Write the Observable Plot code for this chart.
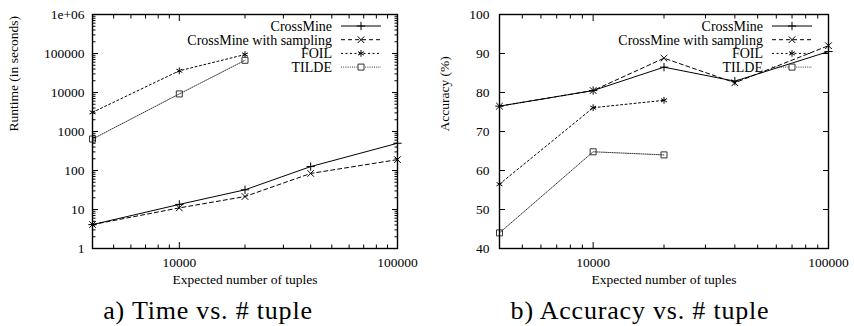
<!DOCTYPE html>
<html><head><meta charset="utf-8">
<script src="https://cdn.jsdelivr.net/npm/d3@7"></script>
<script src="https://cdn.jsdelivr.net/npm/@observablehq/plot@0.6"></script>
<style>
body{margin:0;background:#fff;}
#wrap{position:relative;width:854px;height:326px;overflow:hidden;}
#panels{display:flex;}
#overlay{position:absolute;left:0;top:0;}
</style></head><body>
<div id="wrap"><div id="panels"><div id="a"></div><div id="b"></div></div><svg id="overlay" width="854" height="326"></svg></div>
<script>
// ---- data ----
const tuples = [4000, 10000, 20000, 40000, 100000];
const seriesNames = ["CrossMine", "CrossMine with sampling", "FOIL", "TILDE"];
const runtimeCrossMine = [4.1, 13.5, 32, 126, 500];
const runtimeSampling = [4.1, 11, 21.5, 84, 190];
const runtimeFOIL = [3100, 36000, 94000];
const runtimeTILDE = [640, 9200, 67000];
const accCrossMine = [76.5, 80.5, 86.5, 82.9, 90.5];
const accSampling = [76.5, 80.5, 88.8, 82.5, 92.0];
const accFOIL = [56.5, 76.1, 78.0];
const accTILDE = [44.0, 64.8, 64.0];
const xTicks = [10000, 100000];
const xTickLabels = ["10000", "100000"];
const runtimeTicks = [1, 10, 100, 1000, 10000, 100000, 1000000];
const runtimeTickLabels = ["1", "10", "100", "1000", "10000", "100000", "1e+06"];
const accTicks = [40, 50, 60, 70, 80, 90, 100];
const accTickLabels = ["40", "50", "60", "70", "80", "90", "100"];
const xTitle = "Expected number of tuples";
const yTitles = ["Runtime (in seconds)", "Accuracy (%)"];
const captions = ["a) Time vs. # tuple", "b) Accuracy vs. # tuple"];

// ---- styles ----
const FONT = "'Liberation Serif', 'Times New Roman', serif";
const seriesStyle = [
  {symbol: "plus", r: 2.8, dash: null, stroke: "#000"},
  {symbol: "times", r: 3.1, dash: "4,3", stroke: "#000"},
  {symbol: "asterisk", r: 3.2, dash: "2,2.5", stroke: "#000"},
  {symbol: "square", r: 3.4, dash: "1,1.2", stroke: "#333"}
];
const d3sym = {plus: d3.symbolPlus, times: d3.symbolTimes, asterisk: d3.symbolAsterisk, square: d3.symbolSquare};

// minor ticks (log)
const xMinor = [];
for (const dec of [1000, 10000]) for (let k = 2; k <= 9; k++) { const v = dec * k; if (v > 4000 && v < 100000 && v !== 10000) xMinor.push(v); }
const runtimeMinor = [];
for (let e = 0; e < 6; e++) for (let k = 2; k <= 9; k++) runtimeMinor.push(k * Math.pow(10, e));

function rows(seriesList) {
  return seriesList.map((vals, s) => vals.map((v, i) => ({x: tuples[i], y: v, s})));
}

function panel({series, yScale, yTicks, yLabels, yMinor, margins, yPad, yTitleDx}) {
  const data = rows(series);
  const marks = [];
  data.forEach((d, s) => {
    const st = seriesStyle[s];
    marks.push(Plot.line(d, {x: "x", y: "y", stroke: st.stroke, strokeWidth: 1, strokeDasharray: st.dash}));
    marks.push(Plot.dot(d, {x: "x", y: "y", symbol: () => st.symbol, r: st.r, stroke: st.stroke, fill: "none", strokeWidth: 1}));
  });
  const tickLabel = (ticks, labels) => (v) => labels[ticks.indexOf(v)];
  const blank = () => "";
  marks.push(
    Plot.frame({stroke: "#000", strokeWidth: 1.4}),
    Plot.axisX({anchor: "bottom", ticks: xTicks, tickSize: 0, tickPadding: 9, tickFormat: tickLabel(xTicks, xTickLabels), label: null}),
    Plot.axisX({anchor: "bottom", ticks: xTicks, tickSize: -6, tickFormat: blank, label: null}),
    Plot.axisX({anchor: "bottom", ticks: xMinor, tickSize: -3.5, tickFormat: blank, label: null}),
    Plot.axisX({anchor: "top", ticks: xTicks, tickSize: -6, tickFormat: blank, label: null}),
    Plot.axisX({anchor: "top", ticks: xMinor, tickSize: -3.5, tickFormat: blank, label: null}),
    Plot.axisY({anchor: "left", ticks: yTicks, tickSize: 0, tickPadding: yPad, tickFormat: tickLabel(yTicks, yLabels), label: null}),
    Plot.axisY({anchor: "left", ticks: yTicks, tickSize: -6, tickFormat: blank, label: null}),
    Plot.axisY({anchor: "right", ticks: yTicks, tickSize: -6, tickFormat: blank, label: null})
  );
  if (yMinor) marks.push(
    Plot.axisY({anchor: "left", ticks: yMinor, tickSize: -3.5, tickFormat: blank, label: null}),
    Plot.axisY({anchor: "right", ticks: yMinor, tickSize: -3.5, tickFormat: blank, label: null})
  );
  marks.push(
    Plot.text([xTitle], {text: d => d, frameAnchor: "bottom", dy: 35, fontSize: 13.5}),
    Plot.text([yScale.title], {text: d => d, frameAnchor: "left", dx: yTitleDx, rotate: -90, fontSize: 13.5})
  );
  return Plot.plot({
    width: 427, height: 326,
    marginLeft: margins[0], marginRight: margins[1], marginTop: margins[2], marginBottom: margins[3],
    style: {fontFamily: FONT, fontSize: "13.5px", color: "#000", background: "transparent"},
    x: {type: "log", domain: [4000, 100000], label: null},
    y: {type: yScale.type, domain: yScale.domain, label: null},
    marks
  });
}

document.getElementById("a").append(panel({
  series: [runtimeCrossMine, runtimeSampling, runtimeFOIL, runtimeTILDE],
  yScale: {type: "log", domain: [1, 1e6], title: yTitles[0]},
  yTicks: runtimeTicks, yLabels: runtimeTickLabels, yMinor: runtimeMinor,
  margins: [92, 30, 14, 78], yPad: 8, yTitleDx: -79
}));
document.getElementById("b").append(panel({
  series: [accCrossMine, accSampling, accFOIL, accTILDE],
  yScale: {type: "linear", domain: [40, 100], title: yTitles[1]},
  yTicks: accTicks, yLabels: accTickLabels, yMinor: null,
  margins: [72, 26, 14, 78], yPad: 10, yTitleDx: -55
}));

// ---- legends & captions (overlay) ----
const ov = d3.select("#overlay");
const frameRights = [397, 828];
frameRights.forEach((fr) => {
  seriesNames.forEach((name, s) => {
    const st = seriesStyle[s];
    const y = 26 + s * 13.7;
    ov.append("text").attr("x", fr - 65).attr("y", y).attr("dy", "0.35em")
      .attr("text-anchor", "end").attr("font-family", FONT).attr("font-size", 14).attr("fill", "#000").text(name);
    ov.append("line").attr("x1", fr - 56).attr("x2", fr - 16).attr("y1", y).attr("y2", y)
      .attr("stroke", st.stroke).attr("stroke-width", 1).attr("stroke-dasharray", st.dash);
    ov.append("path").attr("transform", `translate(${fr - 36},${y})`)
      .attr("d", d3.symbol(d3sym[st.symbol], Math.PI * st.r * st.r)())
      .attr("fill", st.symbol === "square" ? "#fff" : "none").attr("stroke", st.stroke).attr("stroke-width", 1);
  });
});
[208, 640].forEach((cx, i) => {
  ov.append("text").attr("x", cx).attr("y", 319).attr("text-anchor", "middle")
    .attr("font-family", FONT).attr("font-size", 26).attr("letter-spacing", "0.8px").attr("fill", "#000").text(captions[i]);
});
</script>
</body></html>
